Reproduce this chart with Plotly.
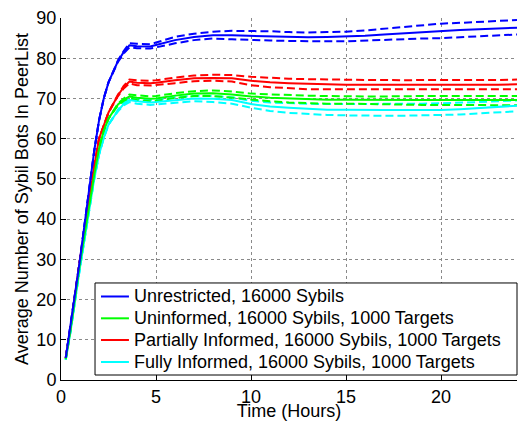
import plotly.graph_objects as go

# Sampling times (hours)
time_h = [0.25, 0.5, 1.0, 1.5, 1.75, 2.0, 2.25, 2.5, 3.0, 3.3, 3.6, 4.0, 4.7, 5.0,
          6.0, 7.0, 8.0, 9.0, 10.0, 11.0, 12.0, 13.0, 14.0, 15.0, 16.0, 17.0,
          18.0, 19.0, 20.0, 21.0, 22.0, 23.0, 24.0]

# Mean number of Sybil bots in the peer list, with lower / upper bounds
unrestricted_mean = [5.5, 13.5, 30.0, 48.0, 57.0, 64.5, 70.0, 74.0, 79.3, 81.5, 83.2, 83.0, 82.9, 83.3,
                     84.5, 85.3, 85.7, 85.7, 85.6, 85.5, 85.3, 85.2, 85.3, 85.4, 85.6, 85.9,
                     86.2, 86.5, 86.8, 87.0, 87.2, 87.4, 87.6]
unrestricted_low = [5.5, 13.5, 30.0, 48.0, 57.0, 64.5, 70.0, 74.0, 79.1, 81.2, 82.7, 82.5, 82.4, 82.7,
                    83.7, 84.5, 84.9, 84.7, 84.5, 84.4, 84.3, 84.2, 84.2, 84.2, 84.4, 84.6,
                    84.8, 84.9, 85.0, 85.2, 85.4, 85.6, 85.9]
unrestricted_high = [5.5, 13.5, 30.0, 48.0, 57.0, 64.5, 70.0, 74.0, 79.5, 81.8, 83.7, 83.6, 83.5, 83.9,
                     85.3, 86.1, 86.6, 86.8, 86.8, 86.7, 86.5, 86.4, 86.5, 86.6, 86.9, 87.3,
                     87.8, 88.2, 88.6, 88.8, 89.0, 89.2, 89.5]

uninformed_mean = [5.2, 12.5, 29.0, 44.0, 51.0, 57.5, 62.0, 65.0, 68.5, 69.7, 70.5, 70.2, 69.9, 70.0,
                   70.7, 71.2, 71.3, 71.0, 70.5, 70.2, 70.0, 69.8, 69.7, 69.65, 69.6, 69.6,
                   69.6, 69.6, 69.6, 69.6, 69.6, 69.6, 69.6]
uninformed_low = [5.2, 12.5, 29.0, 44.0, 51.0, 57.5, 62.0, 65.0, 68.3, 69.4, 70.0, 69.6, 69.3, 69.4,
                  70.1, 70.6, 70.6, 70.2, 69.7, 69.3, 69.0, 68.8, 68.7, 68.7, 68.6, 68.5,
                  68.5, 68.4, 68.4, 68.4, 68.3, 68.3, 68.3]
uninformed_high = [5.2, 12.5, 29.0, 44.0, 51.0, 57.5, 62.0, 65.0, 68.7, 70.0, 71.0, 70.8, 70.5, 70.6,
                   71.3, 71.8, 72.0, 71.7, 71.2, 71.0, 70.8, 70.7, 70.6, 70.5, 70.5, 70.5,
                   70.6, 70.6, 70.6, 70.6, 70.6, 70.6, 70.6]

partial_mean = [5.5, 13.0, 30.0, 46.0, 53.0, 60.0, 63.5, 66.5, 70.8, 72.8, 74.2, 73.9, 73.8, 73.9,
                74.5, 75.0, 75.1, 75.0, 74.4, 74.0, 73.8, 73.6, 73.5, 73.4, 73.4, 73.4,
                73.3, 73.3, 73.4, 73.3, 73.3, 73.4, 73.5]
partial_low = [5.5, 13.0, 30.0, 46.0, 53.0, 60.0, 63.5, 66.5, 70.6, 72.5, 73.7, 73.3, 73.2, 73.3,
               73.8, 74.3, 74.4, 74.2, 73.3, 72.8, 72.5, 72.3, 72.3, 72.3, 72.3, 72.3,
               72.2, 72.3, 72.3, 72.2, 72.2, 72.3, 72.3]
partial_high = [5.5, 13.0, 30.0, 46.0, 53.0, 60.0, 63.5, 66.5, 71.0, 73.1, 74.7, 74.5, 74.4, 74.5,
                75.2, 75.7, 75.9, 75.8, 75.4, 75.1, 74.9, 74.8, 74.7, 74.6, 74.6, 74.6,
                74.5, 74.6, 74.6, 74.5, 74.5, 74.6, 74.7]

fully_mean = [5.0, 12.0, 28.0, 43.0, 50.0, 56.0, 60.2, 63.5, 67.0, 68.6, 69.6, 69.3, 69.0, 69.1,
              69.6, 70.0, 69.9, 69.6, 68.6, 68.0, 67.7, 67.4, 67.2, 67.2, 67.1, 67.1,
              67.1, 67.1, 67.1, 67.3, 67.6, 67.9, 68.2]
fully_low = [5.0, 12.0, 28.0, 43.0, 50.0, 56.0, 60.2, 63.5, 66.8, 68.3, 69.1, 68.7, 68.4, 68.5,
             68.9, 69.3, 69.1, 68.7, 67.7, 66.9, 66.4, 66.1, 65.9, 65.8, 65.7, 65.7,
             65.7, 65.8, 65.8, 66.0, 66.3, 66.6, 66.8]
fully_high = [5.0, 12.0, 28.0, 43.0, 50.0, 56.0, 60.2, 63.5, 67.2, 68.9, 70.1, 69.9, 69.6, 69.7,
              70.3, 70.7, 70.6, 70.3, 69.4, 69.0, 68.8, 68.7, 68.6, 68.6, 68.6, 68.6,
              68.6, 68.7, 68.8, 68.9, 69.1, 69.3, 69.5]

series_names = ["Unrestricted, 16000 Sybils",
                "Uninformed, 16000 Sybils, 1000 Targets",
                "Partially Informed, 16000 Sybils, 1000 Targets",
                "Fully Informed, 16000 Sybils, 1000 Targets"]
series_colors = ["#0000ff", "#00ff00", "#ff0000", "#00ffff"]
series_means = [unrestricted_mean, uninformed_mean, partial_mean, fully_mean]
series_lows = [unrestricted_low, uninformed_low, partial_low, fully_low]
series_highs = [unrestricted_high, uninformed_high, partial_high, fully_high]

x_ticks = [0, 5, 10, 15, 20]
y_ticks = [0, 10, 20, 30, 40, 50, 60, 70, 80, 90]

fig = go.Figure()

# Dashed bounds first, then solid means; reversed so blue is drawn last (on top)
order = list(range(len(series_names)))[::-1]
for i in order:
    for bound in (series_lows[i], series_highs[i]):
        fig.add_trace(go.Scatter(
            x=time_h, y=bound, mode="lines", showlegend=False, hoverinfo="skip",
            line=dict(color=series_colors[i], width=2, dash="8px,4px"),
        ))
for i in order:
    fig.add_trace(go.Scatter(
        x=time_h, y=series_means[i], mode="lines", name=series_names[i],
        showlegend=False, line=dict(color=series_colors[i], width=2),
    ))

# Boxed legend in the lower right of the axes (paper coordinates)
box_x0, box_x1, box_y0, box_y1 = 0.0746, 1.0, 0.0138, 0.268
row_y = [0.2307, 0.1704, 0.1105, 0.0497]
sample_x0, sample_x1, label_x = 0.0877, 0.149, 0.155

shapes = [dict(type="rect", xref="paper", yref="paper",
               x0=box_x0, x1=box_x1, y0=box_y0, y1=box_y1,
               line=dict(color="black", width=1), fillcolor="white", layer="above")]
annotations = []
for name, color, ry in zip(series_names, series_colors, row_y):
    shapes.append(dict(type="line", xref="paper", yref="paper",
                       x0=sample_x0, x1=sample_x1, y0=ry, y1=ry,
                       line=dict(color=color, width=2), layer="above"))
    annotations.append(dict(xref="paper", yref="paper", x=label_x, y=ry,
                            xanchor="left", yanchor="middle", showarrow=False,
                            text=name, font=dict(size=18, color="black")))

font = "Liberation Sans, Arial, Helvetica, sans-serif"

fig.update_layout(
    width=518, height=421,
    margin=dict(l=61, r=1, t=18, b=41),
    plot_bgcolor="white", paper_bgcolor="white",
    font=dict(family=font, size=18, color="black"),
    showlegend=False,
    shapes=shapes,
    annotations=annotations,
    xaxis=dict(
        range=[0, 24], tickvals=x_ticks, ticktext=[str(v) for v in x_ticks],
        ticks="inside", ticklen=5, tickcolor="black",
        showline=True, linecolor="black", linewidth=1, mirror=False,
        showgrid=True, gridcolor="#8a8a8a", griddash="dot", gridwidth=1,
        zeroline=False, tickfont=dict(size=18),
        title=dict(text="Time (Hours)", font=dict(size=18), standoff=2),
    ),
    yaxis=dict(
        range=[0, 90], tickvals=y_ticks, ticktext=[str(v) for v in y_ticks],
        ticks="inside", ticklen=5, tickcolor="black",
        showline=True, linecolor="black", linewidth=1, mirror=False,
        showgrid=True, gridcolor="#8a8a8a", griddash="dot", gridwidth=1,
        zeroline=False, tickfont=dict(size=18),
        title=dict(text="Average Number of Sybil Bots In PeerList", font=dict(size=18), standoff=3),
    ),
)

fig.write_html("out.html")
